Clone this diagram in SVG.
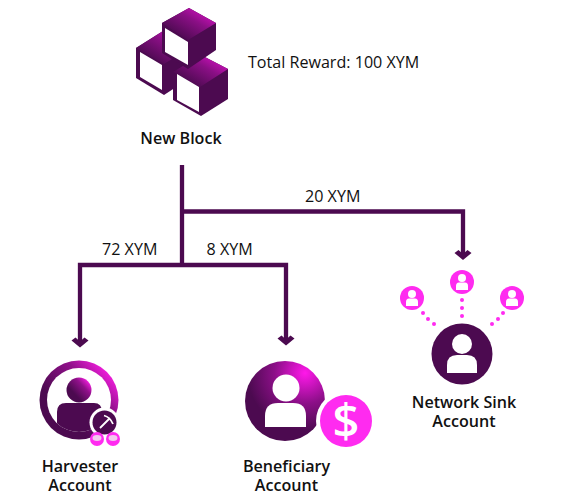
<svg xmlns="http://www.w3.org/2000/svg" width="565" height="500" viewBox="0 0 565 500">
  <style>
    text { font-family: "Open Sans", "Liberation Sans", sans-serif; fill: #111; }
    .amount { font-size: 16.100px; }
    .name { font-size: 16.100px; font-weight: 600; text-anchor: middle; }
    .wire { fill: none; stroke: #4c0a50; stroke-width: 4.300; }
    .white { fill: #fff; }
    .dark { fill: #4c0a50; }
    .pink { fill: #ff2bf0; }
    .face { fill: #4c0a50; }
  </style>
  <defs>
    <linearGradient id="cubeTop" x1="0" y1="1" x2="1" y2="0">
      <stop offset="0.2" stop-color="#4c0a50"/>
      <stop offset="0.6" stop-color="#8a0f85"/>
      <stop offset="1" stop-color="#f010d8"/>
    </linearGradient>
    <linearGradient id="ring" x1="0.1" y1="0.8" x2="0.85" y2="0.1">
      <stop offset="0.25" stop-color="#4c0a50"/>
      <stop offset="0.7" stop-color="#90108a"/>
      <stop offset="1" stop-color="#f51ee0"/>
    </linearGradient>
    <radialGradient id="glow" cx="0.75" cy="0.15" r="0.85">
      <stop offset="0" stop-color="#ff18ea"/>
      <stop offset="0.45" stop-color="#8c0f88"/>
      <stop offset="0.85" stop-color="#4c0a50"/>
    </radialGradient>
    <clipPath id="harvesterClip"><circle cx="79" cy="400" r="32"/></clipPath>
    <path id="arrowhead" d="M-8.500 -7 L0 0 L8.500 -7 L4.500 -10 L0 -6 L-4.500 -10 Z" fill="#4c0a50"/>
  </defs>

  <g id="connectors">
    <path class="wire" d="M182 165 V266"/>
    <path class="wire" d="M182 211.500 H463 V256"/>
    <path class="wire" d="M80 342 V265 H286 V340"/>
    <use href="#arrowhead" x="463" y="260"/>
    <use href="#arrowhead" x="80" y="347.500"/>
    <use href="#arrowhead" x="286" y="345.500"/>
    <text class="amount" x="305" y="202">20 XYM</text>
    <text class="amount" x="102" y="255">72 XYM</text>
    <text class="amount" x="206.500" y="255">8 XYM</text>
  </g>

  <g id="new-block">
    <!-- left cube -->
    <path d="M136 48 L163 31 L190 48 V78 L164 95 L136 78 Z" class="face"/>
    <path d="M136 48 L163 31 L190 48 L164 64 Z" fill="url(#cubeTop)"/>
    <path class="white" d="M140 52 L162 65 V90 L140 77 Z"/>
    <!-- right cube -->
    <path d="M173 72 L201 55 L228 69 V99 L201 116 L173 100 Z" class="face"/>
    <path d="M173 72 L201 55 L228 69 L200 87 Z" fill="url(#cubeTop)"/>
    <path class="white" d="M177 74 L199 87 V112 L177 100 Z"/>
    <!-- top cube -->
    <path d="M162 23 L189 8 L216 23 V50 L188 69 L162 53 Z" class="face"/>
    <path d="M162 23 L189 8 L216 23 L188 40 Z" fill="url(#cubeTop)"/>
    <path class="white" d="M165 28 L188 42 V65 L165 52 Z"/>
    <text class="name" x="181" y="144">New Block</text>
    <text class="amount" x="248" y="68">Total Reward: 100 XYM</text>
  </g>

  <g id="harvester-account">
    <circle cx="79" cy="400" r="39.500" fill="url(#ring)"/>
    <circle cx="79" cy="400" r="32" class="white"/>
    <circle cx="79" cy="390" r="12.500" fill="url(#ring)"/>
    <path clip-path="url(#harvesterClip)" d="M57 412 Q57 403 66 403 H94 Q102 403 102 412 V435 H57 Z" class="dark"/>
    <circle cx="104.500" cy="422.500" r="15" class="white"/>
    <circle cx="104.500" cy="422.500" r="12" class="dark"/>
    <path d="M100 428 L110 418 M104 415.500 Q110 417 113 424" fill="none" stroke="#fff" stroke-width="1.800"/>
    <circle cx="97" cy="439" r="7" class="pink"/>
    <circle cx="113" cy="439" r="7" class="pink"/>
    <ellipse cx="97" cy="438" rx="4.500" ry="3" fill="#f3c8ee"/>
    <ellipse cx="113" cy="438" rx="4.500" ry="3" fill="#f3c8ee"/>
    <text class="name"><tspan x="80" y="471.500">Harvester</tspan><tspan x="80" y="490.500">Account</tspan></text>
  </g>

  <g id="beneficiary-account">
    <circle cx="285" cy="401" r="40" fill="url(#glow)"/>
    <circle cx="286" cy="388" r="13.500" class="white"/>
    <path class="white" d="M265 427 V416 Q265 403 278 403 H293 Q306 403 306 416 V427 Z"/>
    <circle cx="346" cy="421" r="30" class="white"/>
    <circle cx="346" cy="421" r="26" class="pink"/>
    <text x="346" y="438" text-anchor="middle" style="font-size:47px;font-weight:600;fill:#fff">$</text>
    <text class="name"><tspan x="286.500" y="471.500">Beneficiary</tspan><tspan x="286.500" y="490.500">Account</tspan></text>
  </g>

  <g id="network-sink-account">
    <circle cx="462" cy="354" r="30.500" class="dark"/>
    <circle cx="462" cy="344" r="10" class="white"/>
    <path class="white" d="M447 373 V365 Q447 355 457 355 H467 Q477 355 477 365 V373 Z"/>
    <g class="pink">
      <circle cx="462" cy="300" r="2"/><circle cx="462" cy="308" r="2"/><circle cx="462" cy="316" r="2"/>
      <circle cx="423" cy="313" r="2"/><circle cx="428" cy="319" r="2"/><circle cx="434" cy="324" r="2"/>
      <circle cx="503" cy="313" r="2"/><circle cx="498" cy="319" r="2"/><circle cx="492" cy="324" r="2"/>
    </g>
    <g id="sink-peer-top">
      <circle cx="462" cy="282" r="12" class="pink"/>
      <circle cx="462" cy="278" r="4" class="white"/>
      <path class="white" d="M456 290 V286 Q456 282.500 459 282.500 H465 Q468 282.500 468 286 V290 Z"/>
    </g>
    <g id="sink-peer-left">
      <circle cx="412" cy="298" r="12" class="pink"/>
      <circle cx="412" cy="294" r="4" class="white"/>
      <path class="white" d="M406 306 V302 Q406 298.500 409 298.500 H415 Q418 298.500 418 302 V306 Z"/>
    </g>
    <g id="sink-peer-right">
      <circle cx="512" cy="298" r="12" class="pink"/>
      <circle cx="512" cy="294" r="4" class="white"/>
      <path class="white" d="M506 306 V302 Q506 298.500 509 298.500 H515 Q518 298.500 518 302 V306 Z"/>
    </g>
    <text class="name"><tspan x="464" y="408">Network Sink</tspan><tspan x="464" y="427">Account</tspan></text>
  </g>
</svg>
